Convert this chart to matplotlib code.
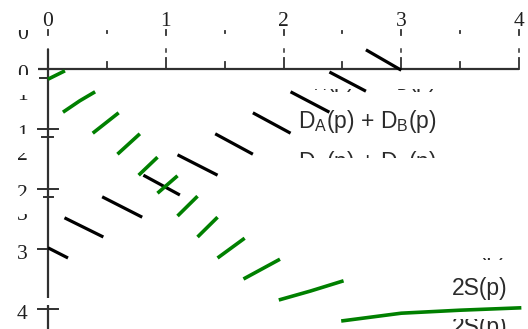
#!/usr/bin/env python3
"""Recreate the sliced D_A(p) + D_B(p) / 2S(p) chart."""

import matplotlib

matplotlib.use("Agg")
import matplotlib.pyplot as plt
import numpy as np
from matplotlib.transforms import Bbox

nan = np.nan

# x tick values (top labels) and y tick values (left labels)
x_ticks = [0, 1, 2, 3, 4]
y_ticks = [0, 1, 2, 3, 4]

# D_A(p) + D_B(p): visible pieces, NaN separates pieces
black_x = [2.70, 3.00, nan, 2.39, 2.70, nan, 2.06, 2.39, nan, 1.74, 2.06, nan,
           1.42, 1.74, nan, 1.10, 1.44, nan, 0.81, 1.12, nan, 0.46, 0.80, nan,
           0.14, 0.47, nan, 0.00, 0.17]
black_y = [-0.32, 0.02, nan, 0.05, 0.37, nan, 0.38, 0.72, nan, 0.73, 1.07, nan,
           1.08, 1.42, nan, 1.43, 1.77, nan, 1.77, 2.10, nan, 2.13, 2.47, nan,
           2.48, 2.80, nan, 2.98, 3.15]

# 2S(p): visible pieces
green_x = [0.00, 0.144, nan, 0.127, 0.27, 0.40, nan, 0.38, 0.60, nan, 0.59, 0.78, nan,
           0.77, 0.93, nan, 0.93, 1.10, nan, 1.10, 1.27, nan, 1.27, 1.44, nan,
           1.44, 1.67, nan, 1.66, 1.97, nan, 1.96, 2.23, 2.51, nan,
           2.49, 3.00, 3.50, 4.02]
green_y = [0.17, 0.03, nan, 0.72, 0.53, 0.38, nan, 1.07, 0.73, nan, 1.42, 1.08, nan,
           1.77, 1.47, nan, 2.07, 1.78, nan, 2.45, 2.12, nan, 2.80, 2.47, nan,
           3.15, 2.82, nan, 3.50, 3.17, nan, 3.85, 3.70, 3.53, nan,
           4.20, 4.07, 4.02, 3.98]

AXIS_COLOR = "#303030"
TEXT_COLOR = "#2b2b2b"
LABEL_COLOR = "#202020"
W, H = 528, 329
PX_X = 117.75  # pixels per x unit
PX_Y = 60.0    # pixels per y unit


def pixel_clip(y_top, y_bottom, x_left=0, x_right=W):
    """Clip box given in image pixel rows (top-down)."""
    return Bbox([[x_left, H - y_bottom], [x_right, H - y_top]])


def clipped_text(ax, x, y, s, clip, **kw):
    t = ax.text(x, y, s, clip_on=True, **kw)
    t.set_clip_box(pixel_clip(*clip))
    return t


def main() -> None:
    fig = plt.figure(figsize=(W / 100, H / 100), dpi=100, facecolor="white")
    ax = fig.add_axes([0, 0, 1, 1])
    ax.set_xlim(-48 / PX_X, (W - 48) / PX_X)
    ax.set_ylim((H - 69) / PX_Y, -69 / PX_Y)
    ax.axis("off")

    # axes lines
    ax.plot([-0.085, 4.0], [0, 0], color=AXIS_COLOR, lw=1.6, solid_capstyle="butt")
    ax.plot([0, 0], [-0.33, 3.82], color=AXIS_COLOR, lw=1.6, solid_capstyle="butt")
    ax.plot([0, 0], [3.94, 4.4], color=AXIS_COLOR, lw=1.6, solid_capstyle="butt")

    # x ticks along the axis
    for xv in np.arange(0.5, 4.01, 0.5):
        top = -0.19 if float(xv).is_integer() else -0.11
        ax.plot([xv, xv], [0, top], color=AXIS_COLOR, lw=1.3)
    # leftover tick fragments from the sliced rows
    for xv in np.arange(0, 4.01, 0.5):
        if float(xv).is_integer():
            ax.plot([xv, xv], [-0.65, -0.57], color=AXIS_COLOR, lw=1.3)
            ax.plot([xv, xv], [-0.33, -0.28], color=AXIS_COLOR, lw=1.1)
        else:
            ax.plot([xv, xv], [-0.63, -0.60], color=AXIS_COLOR, lw=1.3)

    # y ticks
    for yv, left, right in [(1, -0.085, 0.085), (2, -0.085, 0.085),
                            (3, -0.085, 0.0), (4, -0.085, 0.085),
                            (0.15, -0.07, 0.0), (1.13, -0.05, 0.045),
                            (2.14, -0.03, 0.045)]:
        ax.plot([left, right], [yv, yv], color=AXIS_COLOR, lw=1.4)

    # curves
    ax.plot(black_x, black_y, color="black", lw=2.3, solid_capstyle="butt")
    ax.plot(green_x, green_y, color="#008000", lw=2.6, solid_capstyle="butt")

    serif = dict(family="Liberation Serif", fontsize=15.5, ha="center",
                 va="baseline", color=LABEL_COLOR)
    for xv in x_ticks:
        ax.text(xv, -0.715, str(xv), **serif)

    # left labels, cut by the sliced rows, plus a bottom sliver of each one row higher
    label_clips = {0: (64, 75), 1: (110, 134), 2: (170, 196), 3: (240, 270), 4: (290, 329)}
    dup_clips = {0: (30, 39), 1: (95, 101), 2: (153, 161), 3: (214, 221)}
    dup_base = {0: 39, 1: 100, 2: 160, 3: 220}
    for yv in y_ticks:
        base = yv + 0.165
        clipped_text(ax, -0.22, base, str(yv), label_clips[yv], **serif)
        if yv in dup_clips:
            clipped_text(ax, -0.22, (dup_base[yv] - 69) / PX_Y, str(yv),
                         dup_clips[yv], **serif)

    sans = dict(family="Liberation Sans", ha="left", va="baseline", color=TEXT_COLOR)
    label_d = r"D$_\mathregular{A}$(p) + D$_\mathregular{B}$(p)"
    ax.text(2.125, 0.985, label_d, fontsize=16.5, **sans)
    clipped_text(ax, 2.125, 0.30, label_d, (89, 94), fontsize=16.5, **sans)
    clipped_text(ax, 2.125, 1.66, label_d, (151, 158), fontsize=16.5, **sans)

    ax.text(3.43, 3.77, "2S(p)", fontsize=16.5, **sans)
    clipped_text(ax, 3.43, 3.10, "2S(p)", (258, 263), fontsize=16.5, **sans)
    clipped_text(ax, 3.43, 4.42, "2S(p)", (319, 329), fontsize=16.5, **sans)

    fig.savefig("out.png", dpi=100, facecolor="white")
    plt.close(fig)


if __name__ == "__main__":
    main()
